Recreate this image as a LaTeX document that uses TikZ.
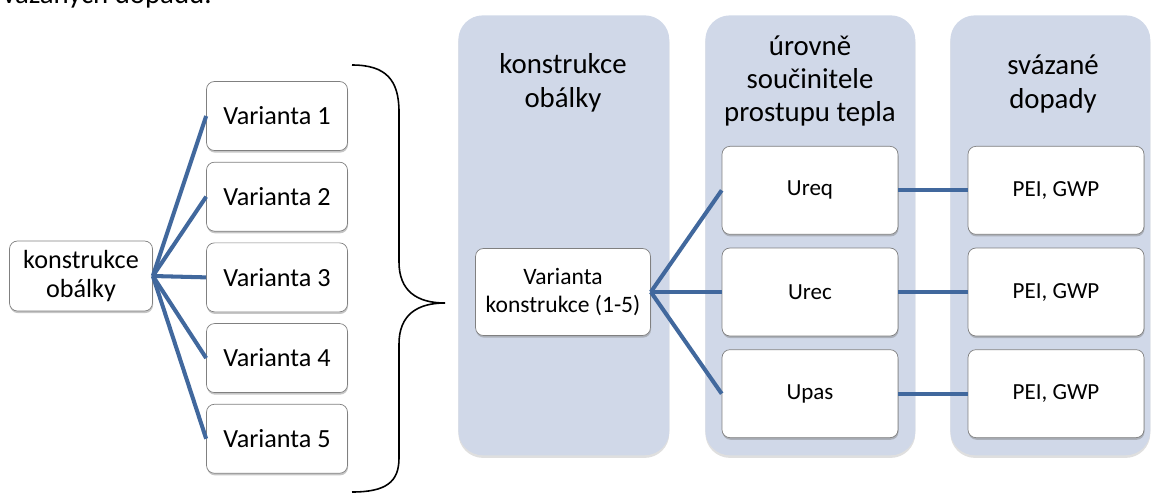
\documentclass[tikz,border=0pt]{standalone}
\usepackage{fontspec}
\setmainfont{Carlito}
\usepackage{xcolor}
\usepackage{tikz}
\usetikzlibrary{positioning,shadows}
\definecolor{panelblue}{RGB}{208,216,232}
\definecolor{linkblue}{RGB}{65,104,157}
\tikzstyle{panel}=[rectangle, rounded corners=14pt, fill=panelblue, anchor=north west,
        drop shadow={opacity=0.25, shadow xshift=0pt, shadow yshift=-1.5pt}]
\tikzstyle{heading}=[text centered, align=center, font=\fontsize{16.4}{19}\selectfont]
\tikzstyle{object}=[rectangle, draw=black!50, rounded corners=4.5pt, fill=white,
        drop shadow={opacity=0.45, shadow xshift=0.3pt, shadow yshift=-1.2pt},
        text centered, align=center]
\tikzstyle{variant}=[object, font=\fontsize{14.9}{17}\selectfont, minimum width=2.82cm, minimum height=1.38cm]
\tikzstyle{level}=[object, font=\fontsize{13.1}{15}\selectfont, minimum width=3.52cm, minimum height=1.76cm]
\tikzstyle{link}=[draw=linkblue, line width=2.3pt]

\begin{document}
\begin{tikzpicture}[x=0.02cm, y=-0.02cm, node distance=0.22cm]
      \clip (0,0) rectangle (1152,494);
      % cut-off line of the text above
      \node [anchor=base east, inner sep=0pt, font=\fontsize{16.4}{19}\selectfont] (Caption) at (212,3) {vázaných dopadů.};

      % panels
      \node (ColKonstr) [panel, minimum width=4.22cm, minimum height=8.8cm] at (458,15) {};
      \node (ColUroven) [panel, minimum width=4.2cm, minimum height=8.8cm] at (705,15) {};
      \node (ColDopad) [panel, minimum width=4cm, minimum height=8.8cm] at (950,15) {};
      \node (HeadKonstr) [heading] at (563,83) {konstrukce\\obálky};
      \node (HeadUroven) [heading] at (810,81) {úrovně\\součinitele\\prostupu tepla};
      \node (HeadDopad) [heading] at (1053,84) {svázané\\dopady};

      % left part
      \node (Konstrukce) [variant, minimum width=2.86cm, minimum height=1.4cm] at (81,276) {konstrukce\\obálky};
      \node (Var1) [variant] at (277,116) {Varianta 1};
      \node (Var2) [variant, below=of Var1] {Varianta 2};
      \node (Var3) [variant, below=of Var2] {Varianta 3};
      \node (Var4) [variant, below=of Var3] {Varianta 4};
      \node (Var5) [variant, below=of Var4] {Varianta 5};
      \draw [link] (Konstrukce.east) -- (Var1.west);
      \draw [link] (Konstrukce.east) -- (Var2.west);
      \draw [link] (Konstrukce.east) -- (Var3.west);
      \draw [link] (Konstrukce.east) -- (Var4.west);
      \draw [link] (Konstrukce.east) -- (Var5.west);

      % brace
      \coordinate (BraceTop) at (352,65);
      \coordinate (BraceTip) at (445,303);
      \coordinate (BraceBottom) at (352,492);
      \draw [line width=0.9pt] (BraceTop) .. controls (386,65) and (399,80) .. (399,112)
        -- (399,262) .. controls (399,291) and (417,303) .. (BraceTip)
        .. controls (417,303) and (399,315) .. (399,344)
        -- (399,458) .. controls (399,482) and (386,492) .. (BraceBottom);

      % right part
      \node (VarKonstr) [level, minimum width=3.5cm, minimum height=1.74cm, font=\fontsize{13.4}{15.5}\selectfont] at (563,292) {Varianta\\konstrukce (1-5)};
      \node (Urec) [level] at (810,292) {Urec};
      \node (Ureq) [level, above=0.26cm of Urec] {Ureq};
      \node (Upas) [level, below=0.26cm of Urec] {Upas};
      \node (Dopad2) [level] at (1056,292) {PEI, GWP};
      \node (Dopad1) [level, above=0.26cm of Dopad2] {PEI, GWP};
      \node (Dopad3) [level, below=0.26cm of Dopad2] {PEI, GWP};
      \draw [link] (VarKonstr.east) -- (Ureq.west);
      \draw [link] (VarKonstr.east) -- (Urec.west);
      \draw [link] (VarKonstr.east) -- (Upas.west);
      \draw [link] (Ureq) -- (Dopad1);
      \draw [link] (Urec) -- (Dopad2);
      \draw [link] (Upas) -- (Dopad3);
\end{tikzpicture}
\end{document}
